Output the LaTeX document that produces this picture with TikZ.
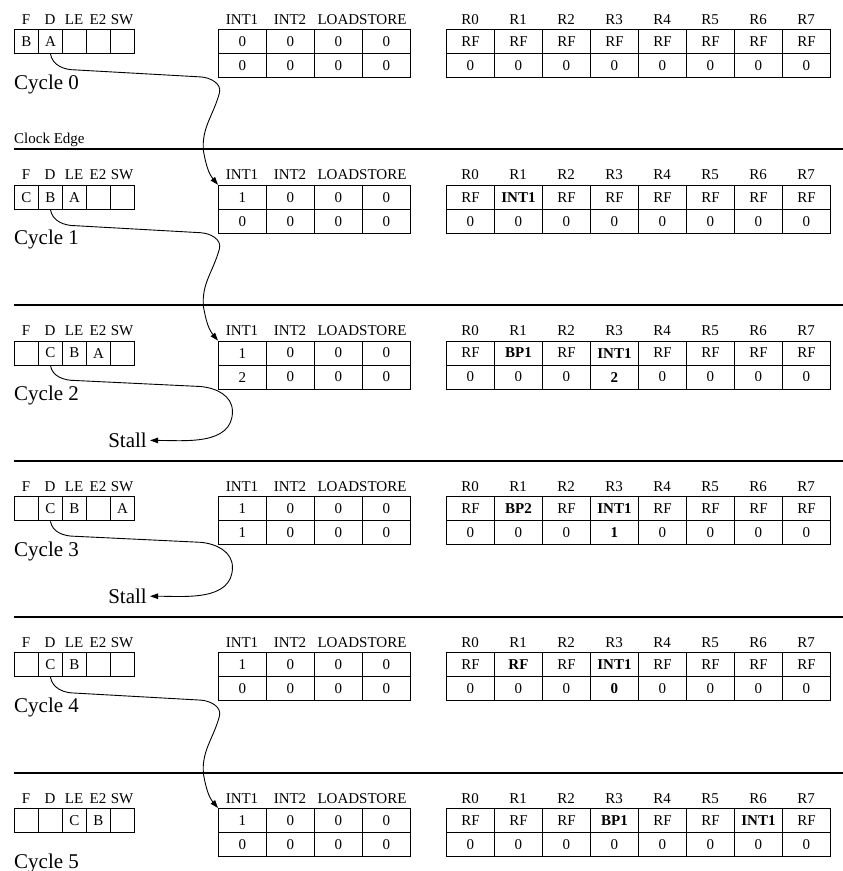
\documentclass[tikz,border=0pt]{standalone}
\usepackage{fontspec}
\setmainfont{Liberation Serif}
\usetikzlibrary{arrows.meta,calc}
\newcommand{\cellfont}{\fontsize{15}{18}\selectfont}
\newcommand{\bigfont}{\fontsize{21}{24}\selectfont}
\tikzset{
  cellbase/.style={draw, line width=0.9pt, inner sep=0pt, minimum height=24pt, anchor=north west, font=\cellfont},
  pcell/.style={cellbase, minimum width=24pt},
  wcell/.style={cellbase, minimum width=48pt},
  hdr/.style={inner sep=0pt, anchor=base, font=\cellfont},
  big/.style={inner sep=0pt, font=\bigfont},
  sepline/.style={line width=2pt},
  arr/.style={line width=0.9pt, -{Triangle[length=8pt,width=5.5pt]}},
}
\newcommand{\stageblock}[6]{%
  \pgfmathsetmacro{\T}{29+155.8*#1}%
  \foreach \h [count=\c] in {F,D,LE,E2,SW}{\node[hdr] (ph#1-\c) at ({26+24*(\c-1)},{-(\T-5)}) {\h};}%
  \foreach \h/\x [count=\c] in {INT1/242,INT2/290,LOADSTORE/362}{\node[hdr] (ih#1-\c) at (\x,{-(\T-5)}) {\h};}%
  \foreach \c in {0,...,7}{\node[hdr] (rh#1-\c) at ({470+48*\c},{-(\T-5)}) {R\c};}%
  \foreach \v [count=\c] in {#2}{\node[pcell] (p#1-\c) at ({14+24*(\c-1)},{-\T}) {\v};}%
  \foreach \v [count=\c] in {#3}{\node[wcell] (i#1-1-\c) at ({218+48*(\c-1)},{-\T}) {\v};}%
  \foreach \v [count=\c] in {#4}{\node[wcell] (i#1-2-\c) at ({218+48*(\c-1)},{-(\T+24)}) {\v};}%
  \foreach \v [count=\c] in {#5}{\node[wcell] (f#1-1-\c) at ({446+48*(\c-1)},{-\T}) {\v};}%
  \foreach \v [count=\c] in {#6}{\node[wcell] (f#1-2-\c) at ({446+48*(\c-1)},{-(\T+24)}) {\v};}%
  \node[big, anchor=base west] (cyc#1) at (14,{-(\T+60)}) {Cycle #1};%
}
\begin{document}
\begin{tikzpicture}[x=1pt,y=1pt]
\useasboundingbox (0,0) rectangle (843,-871);

\stageblock{0}{B,A,{},{},{}}{0,0,0,0}{0,0,0,0}{RF,RF,RF,RF,RF,RF,RF,RF}{0,0,0,0,0,0,0,0}
\stageblock{1}{C,B,A,{},{}}{1,0,0,0}{0,0,0,0}{RF,{\textbf{INT1}},RF,RF,RF,RF,RF,RF}{0,0,0,0,0,0,0,0}
\stageblock{2}{{},C,B,A,{}}{1,0,0,0}{2,0,0,0}{RF,{\textbf{BP1}},RF,{\textbf{INT1}},RF,RF,RF,RF}{0,0,0,{\textbf{2}},0,0,0,0}
\stageblock{3}{{},C,B,{},A}{1,0,0,0}{1,0,0,0}{RF,{\textbf{BP2}},RF,{\textbf{INT1}},RF,RF,RF,RF}{0,0,0,{\textbf{1}},0,0,0,0}
\stageblock{4}{{},C,B,{},{}}{1,0,0,0}{0,0,0,0}{RF,{\textbf{RF}},RF,{\textbf{INT1}},RF,RF,RF,RF}{0,0,0,{\textbf{0}},0,0,0,0}
\stageblock{5}{{},{},C,B,{}}{1,0,0,0}{0,0,0,0}{RF,RF,RF,{\textbf{BP1}},RF,RF,{\textbf{INT1}},RF}{0,0,0,0,0,0,0,0}

% clock edge label and separators
\node[font=\cellfont, inner sep=0pt, anchor=base west] (clk) at (14,-143) {Clock Edge};
\foreach \yy in {149,305,461,617,773}{\draw[sepline] (14,-\yy) -- (843,-\yy);}

% stall labels
\node[big, anchor=base east, inner sep=3pt] (st2) at (150,-447.6) {Stall};
\node[big, anchor=base east, inner sep=3pt] (st3) at (150,-603.4) {Stall};

% issue arrows
\foreach \a/\b in {0/1,1/2,4/5}{
  \draw[arr] (p\a-2.south) to[out=-80,in=180] ++(25,-16) -- ++(125,-7)
     to[out=-3,in=75] ++(19,-16) to[out=-105,in=95] ++(-16,-58)
     to[out=-80,in=130] (i\b-1-1.north west);
}
% stall arrows
\foreach \a in {2,3}{
  \draw[arr] (p\a-2.south) to[out=-80,in=180] ++(25,-15) -- ++(125,-6)
     to[out=-5,in=90] ++(32,-25) to[out=-90,in=0] (st\a.east);
}
\end{tikzpicture}
\end{document}
